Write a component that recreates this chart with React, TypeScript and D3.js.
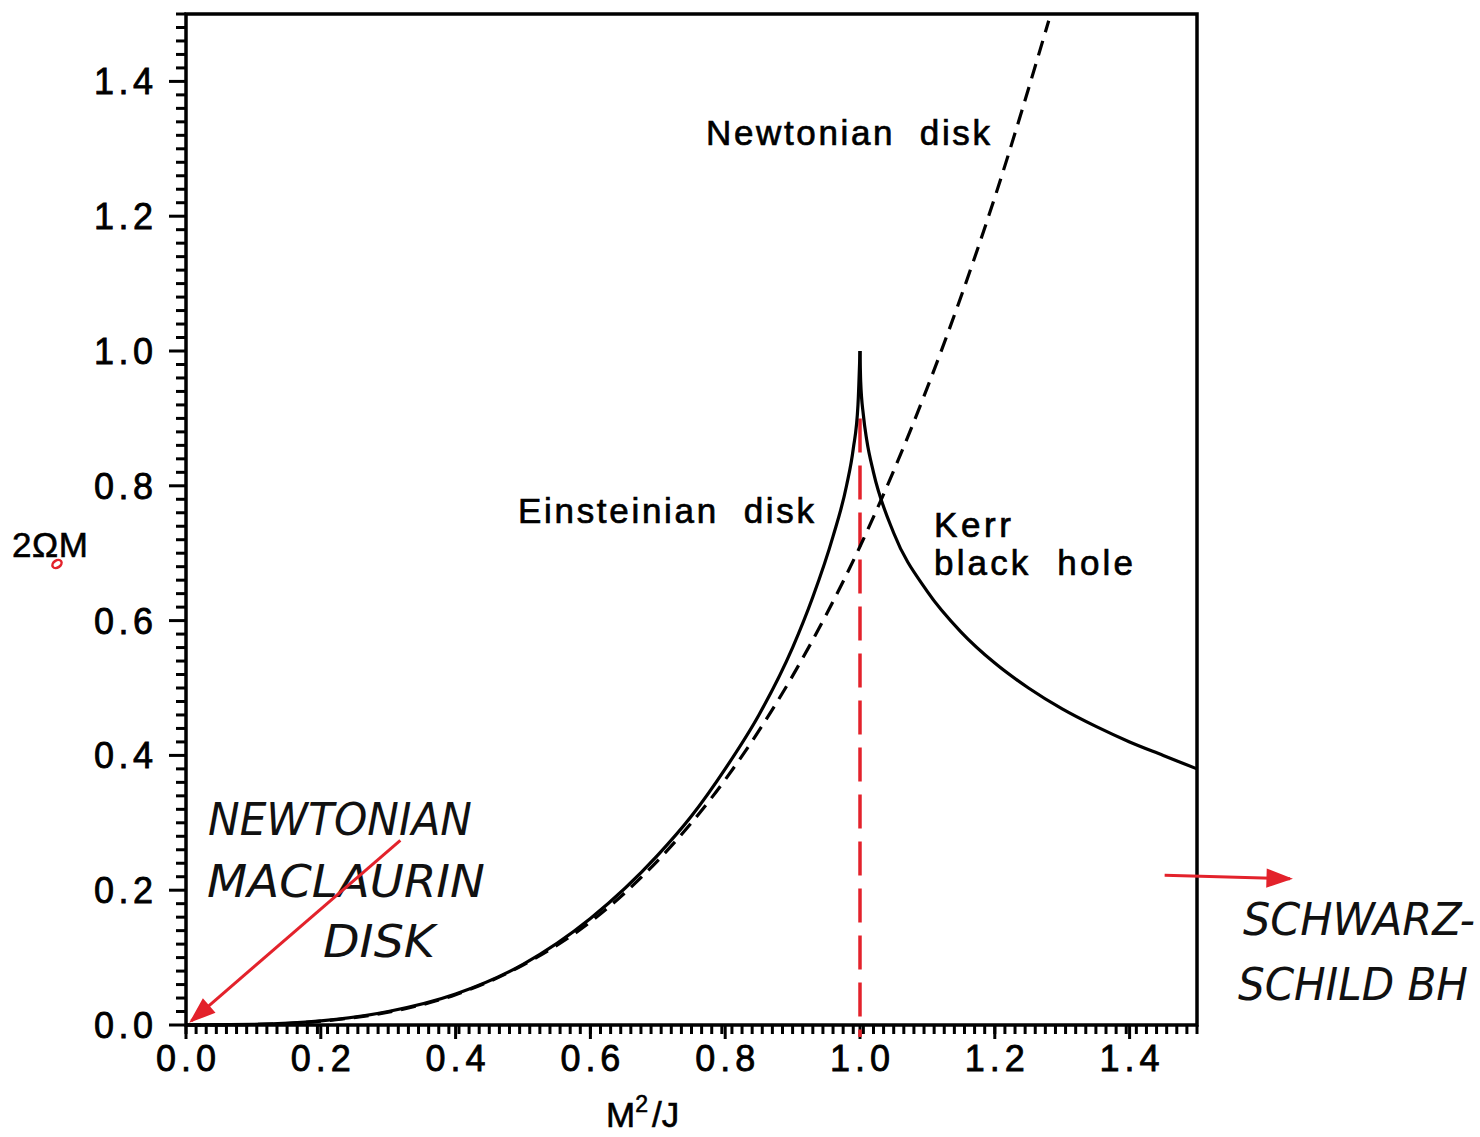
import React, { useEffect, useRef } from 'react';
import * as d3 from 'd3';

// readings from the figure: x = M^2/J, y = 2ΩM
const einsteinX = [0, 0.1, 0.2, 0.3, 0.4, 0.5, 0.6, 0.7, 0.75, 0.8, 0.85, 0.9, 0.93, 0.96, 0.98, 0.99, 0.997, 1.0];
const einsteinY = [0, 0.0008, 0.006, 0.02, 0.046, 0.09, 0.158, 0.252, 0.31, 0.38, 0.46, 0.56, 0.635, 0.725, 0.8, 0.855, 0.92, 1.0];

const kerrX = [1.0, 1.001, 1.005, 1.01, 1.02, 1.05, 1.1, 1.15, 1.2, 1.25, 1.3, 1.35, 1.4, 1.45, 1.5];
const kerrY = [1.0, 0.955, 0.905, 0.868, 0.82, 0.73, 0.643, 0.583, 0.537, 0.5, 0.469, 0.443, 0.42, 0.4, 0.38];

const newtonX = [0, 0.1, 0.2, 0.3, 0.4, 0.5, 0.6, 0.7, 0.8, 0.9, 1.0, 1.1, 1.2, 1.28];
const newtonY = [0, 0.0007, 0.0057, 0.019, 0.045, 0.089, 0.153, 0.244, 0.364, 0.518, 0.71, 0.946, 1.228, 1.49];

const xTickLabels = ['0.0', '0.2', '0.4', '0.6', '0.8', '1.0', '1.2', '1.4'];
const yTickLabels = ['0.0', '0.2', '0.4', '0.6', '0.8', '1.0', '1.2', '1.4'];

const W = 1480;
const H = 1137;
const RED = '#e3222b';

const App = () => {
  const ref = useRef<SVGSVGElement>(null);

  useEffect(() => {
    const svg = d3.select(ref.current);
    svg.selectAll('*').remove();

    const x = d3.scaleLinear().domain([0, 1.5]).range([186, 1197]);
    const y = d3.scaleLinear().domain([0, 1.5]).range([1025, 14]);

    const line = d3
      .line<[number, number]>()
      .x((d) => x(d[0]))
      .y((d) => y(d[1]))
      .curve(d3.curveMonotoneX);

    // frame
    svg
      .append('rect')
      .attr('x', x(0))
      .attr('y', y(1.5))
      .attr('width', x(1.5) - x(0))
      .attr('height', y(0) - y(1.5))
      .attr('fill', 'none')
      .attr('stroke', '#000')
      .attr('stroke-width', 3.5);

    // y ticks
    const yMinor = d3.range(0, 76).map((i) => i * 0.02);
    svg
      .append('g')
      .selectAll('line')
      .data(yMinor)
      .enter()
      .append('line')
      .attr('x1', x(0))
      .attr('x2', (d, i) => x(0) - (i % 10 === 0 ? 17 : 10))
      .attr('y1', (d) => y(d))
      .attr('y2', (d) => y(d))
      .attr('stroke', '#000')
      .attr('stroke-width', 3);

    // x ticks
    const xMinor = d3.range(0, 101).map((i) => i * 0.015);
    svg
      .append('g')
      .selectAll('line')
      .data(xMinor)
      .enter()
      .append('line')
      .attr('x1', (d) => x(d))
      .attr('x2', (d) => x(d))
      .attr('y1', y(0))
      .attr('y2', y(0) + 9)
      .attr('stroke', '#000')
      .attr('stroke-width', 3);
    svg
      .append('g')
      .selectAll('line')
      .data(xTickLabels)
      .enter()
      .append('line')
      .attr('x1', (d) => x(+d))
      .attr('x2', (d) => x(+d))
      .attr('y1', y(0))
      .attr('y2', y(0) + 14)
      .attr('stroke', '#000')
      .attr('stroke-width', 3);

    const font = 'Liberation Sans, Arial, sans-serif';

    svg
      .append('g')
      .selectAll('text')
      .data(xTickLabels)
      .enter()
      .append('text')
      .attr('x', (d) => x(+d))
      .attr('y', 1071)
      .attr('text-anchor', 'middle')
      .attr('font-family', font)
      .attr('font-size', 36)
      .attr('stroke', '#000')
      .attr('stroke-width', 0.8)
      .attr('textLength', 60)
      .attr('lengthAdjust', 'spacing')
      .text((d) => d);

    svg
      .append('g')
      .selectAll('text')
      .data(yTickLabels)
      .enter()
      .append('text')
      .attr('x', 94)
      .attr('y', (d) => y(+d) + 13)
      .attr('font-family', font)
      .attr('font-size', 36)
      .attr('stroke', '#000')
      .attr('stroke-width', 0.8)
      .attr('textLength', 59)
      .attr('lengthAdjust', 'spacing')
      .text((d) => d);

    // axis titles
    svg
      .append('text')
      .attr('x', 12)
      .attr('y', 557)
      .attr('font-family', font)
      .attr('font-size', 35)
      .attr('stroke', '#000')
      .attr('stroke-width', 0.6)
      .attr('textLength', 76)
      .attr('lengthAdjust', 'spacing')
      .text('2ΩM');
    svg
      .append('ellipse')
      .attr('cx', 57)
      .attr('cy', 564)
      .attr('rx', 5)
      .attr('ry', 3.5)
      .attr('transform', 'rotate(-35 57 564)')
      .attr('fill', 'none')
      .attr('stroke', RED)
      .attr('stroke-width', 2.5);

    const xt = svg
      .append('text')
      .attr('x', 606)
      .attr('y', 1127)
      .attr('font-family', font)
      .attr('font-size', 35)
      .attr('stroke', '#000')
      .attr('stroke-width', 0.6);
    xt.append('tspan').text('M');
    xt.append('tspan').attr('font-size', 23).attr('dy', -15).text('2');
    xt.append('tspan').attr('dy', 15).attr('dx', 4).text('/J');

    // red dashed guide at M²/J = 1
    svg
      .append('line')
      .attr('x1', x(1.0))
      .attr('x2', x(1.0))
      .attr('y1', y(0.9))
      .attr('y2', y(0) + 12)
      .attr('stroke', RED)
      .attr('stroke-width', 3.5)
      .attr('stroke-dasharray', '34 13');

    // curves
    svg
      .append('path')
      .attr('d', line(newtonX.map((v, i) => [v, newtonY[i]])))
      .attr('fill', 'none')
      .attr('stroke', '#000')
      .attr('stroke-width', 3.2)
      .attr('stroke-dasharray', '15 9');
    svg
      .append('path')
      .attr('d', line(einsteinX.map((v, i) => [v, einsteinY[i]])))
      .attr('fill', 'none')
      .attr('stroke', '#000')
      .attr('stroke-width', 3.2);
    svg
      .append('path')
      .attr('d', line(kerrX.map((v, i) => [v, kerrY[i]])))
      .attr('fill', 'none')
      .attr('stroke', '#000')
      .attr('stroke-width', 3.2);

    // printed labels
    const labels: [string, number, number, number][] = [
      ['Newtonian  disk', 706, 145, 284],
      ['Einsteinian  disk', 518, 523, 296],
      ['Kerr', 934, 537, 77],
      ['black  hole', 934, 575, 199],
    ];
    svg
      .append('g')
      .selectAll('text')
      .data(labels)
      .enter()
      .append('text')
      .attr('x', (d) => d[1])
      .attr('y', (d) => d[2])
      .attr('font-family', font)
      .attr('font-size', 35)
      .attr('stroke', '#000')
      .attr('stroke-width', 0.7)
      .attr('textLength', (d) => d[3])
      .attr('lengthAdjust', 'spacing')
      .style('white-space', 'pre')
      .text((d) => d[0]);

    // handwritten notes
    const notes: [string, number, number, number][] = [
      ['NEWTONIAN', 208, 835, 264],
      ['MACLAURIN', 207, 897, 278],
      ['DISK', 323, 957, 112],
      ['SCHWARZ-', 1243, 935, 232],
      ['SCHILD BH', 1238, 1000, 230],
    ];
    svg
      .append('g')
      .selectAll('text')
      .data(notes)
      .enter()
      .append('text')
      .attr('x', (d) => d[1])
      .attr('y', (d) => d[2])
      .attr('font-family', 'DejaVu Sans, sans-serif')
      .attr('font-style', 'italic')
      .attr('font-size', 44)
      .attr('fill', '#111')
      .attr('textLength', (d) => d[3])
      .attr('lengthAdjust', 'spacingAndGlyphs')
      .text((d) => d[0]);

    // red arrows
    const arrows: [number, number, number, number][] = [
      [0.318, 0.274, 0.008, 0.006],
      [1.452, 0.222, 1.638, 0.217],
    ];
    arrows.forEach(([x0, y0, x1, y1]) => {
      const ax = x(x0);
      const ay = y(y0);
      const bx = x(x1);
      const by = y(y1);
      const ang = Math.atan2(by - ay, bx - ax);
      svg
        .append('line')
        .attr('x1', ax)
        .attr('y1', ay)
        .attr('x2', bx)
        .attr('y2', by)
        .attr('stroke', RED)
        .attr('stroke-width', 3);
      const len = 24;
      const spread = 0.35;
      const p1 = [bx - len * Math.cos(ang - spread), by - len * Math.sin(ang - spread)];
      const p2 = [bx - len * Math.cos(ang + spread), by - len * Math.sin(ang + spread)];
      svg
        .append('path')
        .attr('d', `M${p1[0]},${p1[1]}L${bx},${by}L${p2[0]},${p2[1]}Z`)
        .attr('fill', RED)
        .attr('stroke', RED)
        .attr('stroke-width', 2);
    });
  }, []);

  return (
    <svg
      ref={ref}
      width={W}
      height={H}
      style={{ position: 'absolute', left: 0, top: 0, background: '#fff' }}
    />
  );
};

export default App;
